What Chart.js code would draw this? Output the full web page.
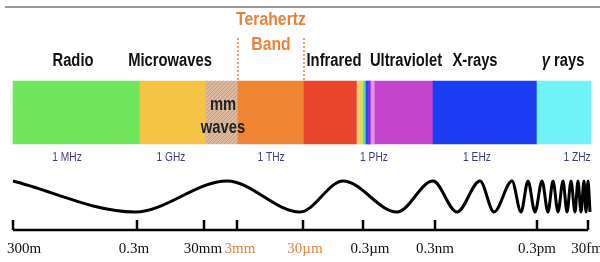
<!DOCTYPE html>
<html>
<head>
<meta charset="utf-8">
<script src="https://cdn.jsdelivr.net/npm/chart.js@4.4.1/dist/chart.umd.min.js"></script>
<style>
  html, body { margin: 0; padding: 0; background: #fff; }
</style>
</head>
<body>
<canvas id="espectro" width="600" height="262"></canvas>
<script>
// posiciones a lo largo del espectro (unidades de la escala x)
const bandStart = [13, 140, 206, 238, 304, 357, 359, 361, 363.5, 366, 368.5, 371, 375, 433, 537];
const bandEnd   = [140, 206, 238, 304, 357, 359, 361, 363.5, 366, 368.5, 371, 375, 433, 537, 591];
const bandColors = ["#70e65c", "#f6c444", "hatch", "#ef8433", "#e8452a",
  "#f6c8a8", "#f8d040", "#c8e850", "#50d8c8", "#2848f0", "#8030e8", "#e890e8",
  "#c445cc", "#1a3cf2", "#70f4f8"];

const regionNames = ["Radio", "Microwaves", "Infrared", "Ultraviolet", "X-rays", "γ rays"];
const regionX = [73, 170, 334, 406, 475, 563];

const freqLabels = ["1 MHz", "1 GHz", "1 THz", "1 PHz", "1 EHz", "1 ZHz"];
const freqX = [67, 171, 271, 374, 477, 577];

const tickPos = [13, 137, 204, 237, 303, 363, 435, 537, 588];
const tickLabelPos = [24, 134, 203, 240, 305, 370, 435, 537, 587];
const tickLabels = ["300m", "0.3m", "30mm", "3mm", "30µm", "0.3µm", "0.3nm", "0.3pm", "30fm"];
const tickDestacados = ["3mm", "30µm"];

// máximos y mínimos de la onda
const waveX = [13, 135, 227, 300, 343, 397, 433, 457, 480, 494, 512, 521, 528, 535, 542, 548,
  553, 558, 563, 567, 571, 575, 578, 581, 584, 586, 588, 590];
const waveY = [49, 18, 49, 18, 49, 18, 49, 18, 49, 18, 49, 18, 49, 18, 49, 18,
  49, 18, 49, 18, 49, 18, 49, 18, 49, 18, 49, 18];

const thzEdges = [238, 304];

const NARANJA = "#e8823a";
const BANDA_Y = 117.5;

// rayado para "mm waves"
function rayado() {
  const c = document.createElement("canvas");
  c.width = 4; c.height = 4;
  const g = c.getContext("2d");
  g.fillStyle = "#dbb89e";
  g.fillRect(0, 0, 4, 4);
  g.strokeStyle = "#c79d80";
  g.lineWidth = 1;
  g.beginPath();
  g.moveTo(0, 4); g.lineTo(4, 0);
  g.stroke();
  return g.createPattern(c, "repeat");
}
const patron = rayado();

const datasets = [];

datasets.push({
  type: "bar",
  indexAxis: "y",
  data: bandStart.map((s, i) => ({ x: [s, bandEnd[i]], y: BANDA_Y })),
  backgroundColor: bandColors.map(c => c === "hatch" ? patron : c),
  borderWidth: 0,
  barThickness: 63
});

datasets.push({
  type: "line",
  data: waveX.map((x, i) => ({ x, y: waveY[i] })),
  borderColor: "#000",
  borderWidth: 3,
  pointRadius: 0,
  cubicInterpolationMode: "monotone"
});

// eje inferior
datasets.push({
  type: "line",
  data: [{ x: tickPos[0], y: 0 }, { x: tickPos[tickPos.length - 1], y: 0 }],
  borderColor: "#000",
  borderWidth: 2.5,
  pointRadius: 0,
  clip: false
});
datasets.push({
  type: "line",
  showLine: false,
  data: tickPos.map(x => ({ x, y: 5 })),
  pointStyle: "line",
  rotation: 90,
  pointRadius: 5,
  borderColor: "#000",
  pointBorderWidth: 2.5,
  clip: false
});

// línea gris superior
datasets.push({
  type: "line",
  data: [{ x: 5, y: 223 }, { x: 600, y: 223 }],
  borderColor: "#777",
  borderWidth: 1.5,
  pointRadius: 0
});

// líneas punteadas de la banda THz
thzEdges.forEach(x => {
  datasets.push({
    type: "line",
    data: [{ x, y: 150 }, { x, y: 192 }],
    borderColor: NARANJA,
    borderWidth: 1.5,
    borderDash: [2, 2],
    pointRadius: 0
  });
});

const textos = {
  id: "textos",
  afterDatasetsDraw(chart) {
    const { ctx, scales: { x, y } } = chart;
    const escribir = (partes, vx, vy, size, color, squeeze) => {
      ctx.save();
      ctx.translate(x.getPixelForValue(vx), y.getPixelForValue(vy));
      ctx.scale(squeeze, 1);
      ctx.fillStyle = color;
      ctx.textBaseline = "alphabetic";
      ctx.textAlign = "left";
      const fuente = it => (it ? "italic " : "") + "bold " + size + "px 'Liberation Sans', Arial, sans-serif";
      let total = 0;
      partes.forEach(p => { ctx.font = fuente(p.it); total += ctx.measureText(p.t).width; });
      let cx = -total / 2;
      partes.forEach(p => {
        ctx.font = fuente(p.it);
        ctx.fillText(p.t, cx, 0);
        cx += ctx.measureText(p.t).width;
      });
      ctx.restore();
    };

    regionNames.forEach((n, i) => {
      const partes = n.startsWith("γ") ? [{ t: "γ", it: true }, { t: n.slice(1) }] : [{ t: n }];
      escribir(partes, regionX[i], 164, 18, "#111", 0.82);
    });
    escribir([{ t: "Terahertz" }], 271, 205, 19, NARANJA, 0.83);
    escribir([{ t: "Band" }], 271, 180, 19, NARANJA, 0.83);
    escribir([{ t: "mm" }], 223, 120, 18, "#222", 0.82);
    escribir([{ t: "waves" }], 223, 97, 18, "#222", 0.82);

    freqLabels.forEach((f, i) => {
      ctx.save();
      ctx.translate(x.getPixelForValue(freqX[i]), y.getPixelForValue(69));
      ctx.scale(0.85, 1);
      ctx.font = "12px 'Liberation Sans', Arial, sans-serif";
      ctx.fillStyle = "#3b3d7d";
      ctx.textAlign = "center";
      ctx.textBaseline = "alphabetic";
      ctx.fillText(f, 0, 0);
      ctx.restore();
    });
  }
};

new Chart(document.getElementById("espectro"), {
  type: "line",
  data: { datasets },
  options: {
    responsive: false,
    animation: false,
    events: [],
    layout: { padding: 0, autoPadding: false },
    plugins: { legend: { display: false }, tooltip: { enabled: false } },
    scales: {
      x: {
        type: "linear",
        min: 0,
        max: 600,
        offset: false,
        grid: { display: false, drawTicks: false, offset: false },
        border: { display: false },
        afterBuildTicks: s => { s.ticks = tickLabelPos.map(v => ({ value: v })); },
        afterFit: s => { s.height = 32; s.paddingLeft = 0; s.paddingRight = 0; },
        ticks: {
          autoSkip: false,
          minRotation: 0,
          maxRotation: 0,
          padding: 10,
          font: { family: "'Liberation Serif', 'Times New Roman', serif", size: 15 },
          color: ctx => tickDestacados.includes(tickLabels[ctx.index]) ? NARANJA : "#111",
          callback: (v, i) => tickLabels[i]
        }
      },
      y: {
        type: "linear",
        min: 0,
        max: 230,
        offset: false,
        grid: { offset: false },
        display: false
      }
    }
  },
  plugins: [textos]
});
</script>
</body>
</html>
